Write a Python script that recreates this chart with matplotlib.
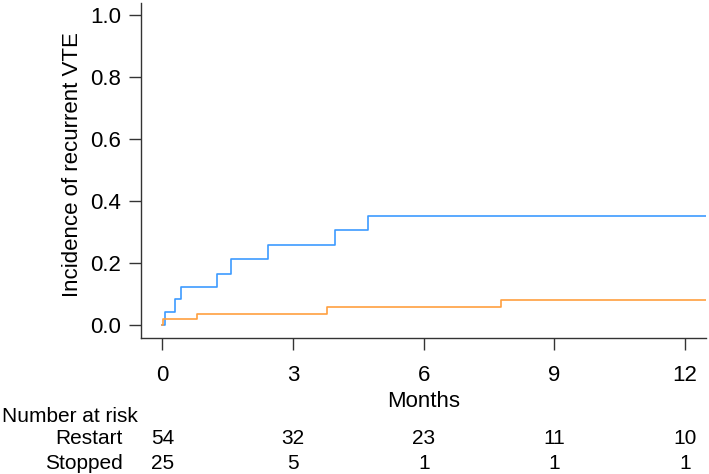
import matplotlib
matplotlib.use("Agg")
import matplotlib.pyplot as plt
import matplotlib.transforms as mtransforms

plt.rcParams['font.family'] = ['Liberation Sans', 'DejaVu Sans']

# Data
times_restart = [0, 0.06, 0.29, 0.42, 1.25, 1.57, 2.43, 3.97, 4.73, 12.48]
inc_restart = [0, 0.042, 0.084, 0.125, 0.167, 0.214, 0.259, 0.306, 0.354, 0.354]

times_stopped = [0, 0.01, 0.79, 3.77, 7.78, 12.48]
inc_stopped = [0, 0.019, 0.038, 0.058, 0.083, 0.083]

x_ticks = [0, 3, 6, 9, 12]
y_ticks = [0.0, 0.2, 0.4, 0.6, 0.8, 1.0]
groups = ["Restart", "Stopped"]
at_risk_restart = [54, 32, 23, 11, 10]
at_risk_stopped = [25, 5, 1, 1, 1]

W, H = 709, 474
fig = plt.figure(figsize=(W / 100, H / 100), dpi=100)
ax = fig.add_axes([141.4 / W, 1 - 337.7 / H, (706 - 141.4) / W, (337.7 - 3) / H])

ax.step(times_restart, inc_restart, where='post', color='#3d9bff', lw=1.2)
ax.step(times_stopped, inc_stopped, where='post', color='#ffa040', lw=1.2)

ax.set_xlim(-0.48, 12.48)
ax.set_ylim(-0.04, 1.04)
ax.set_xticks(x_ticks)
ax.set_xticklabels([str(t) for t in x_ticks])
ax.set_yticks(y_ticks)
ax.set_yticklabels([f"{v:.1f}" for v in y_ticks])

for s in ['top', 'right']:
    ax.spines[s].set_visible(False)
for s in ['left', 'bottom']:
    ax.spines[s].set_color('#333333')
    ax.spines[s].set_linewidth(1.0)

ax.tick_params(axis='both', colors='#333333', labelcolor='black', length=8.5, width=1.0, labelsize=16)
ax.tick_params(axis='x', pad=11)
ax.tick_params(axis='y', pad=6)

fs = 16
fig.text(73 / W, 1 - 165 / H, "Incidence of recurrent VTE", rotation=90,
         ha='center', va='center', fontsize=fs)
fig.text(423.7 / W, 1 - 406.7 / H, "Months", ha='center', va='baseline', fontsize=fs)

rfs = 15
fig.text(1.7 / W, 1 - 421.7 / H, "Number at risk", ha='left', va='baseline', fontsize=rfs)
trans = mtransforms.blended_transform_factory(ax.transData, fig.transFigure)
rows = [(groups[0], at_risk_restart, 444.3), (groups[1], at_risk_stopped, 469)]
for name, vals, yb in rows:
    fig.text(122.7 / W, 1 - yb / H, name, ha='right', va='baseline', fontsize=rfs)
    for t, v in zip(x_ticks, vals):
        ax.text(t, 1 - yb / H, str(v), transform=trans, ha='center', va='baseline',
                fontsize=rfs, clip_on=False)

fig.savefig("out.png", dpi=100)
